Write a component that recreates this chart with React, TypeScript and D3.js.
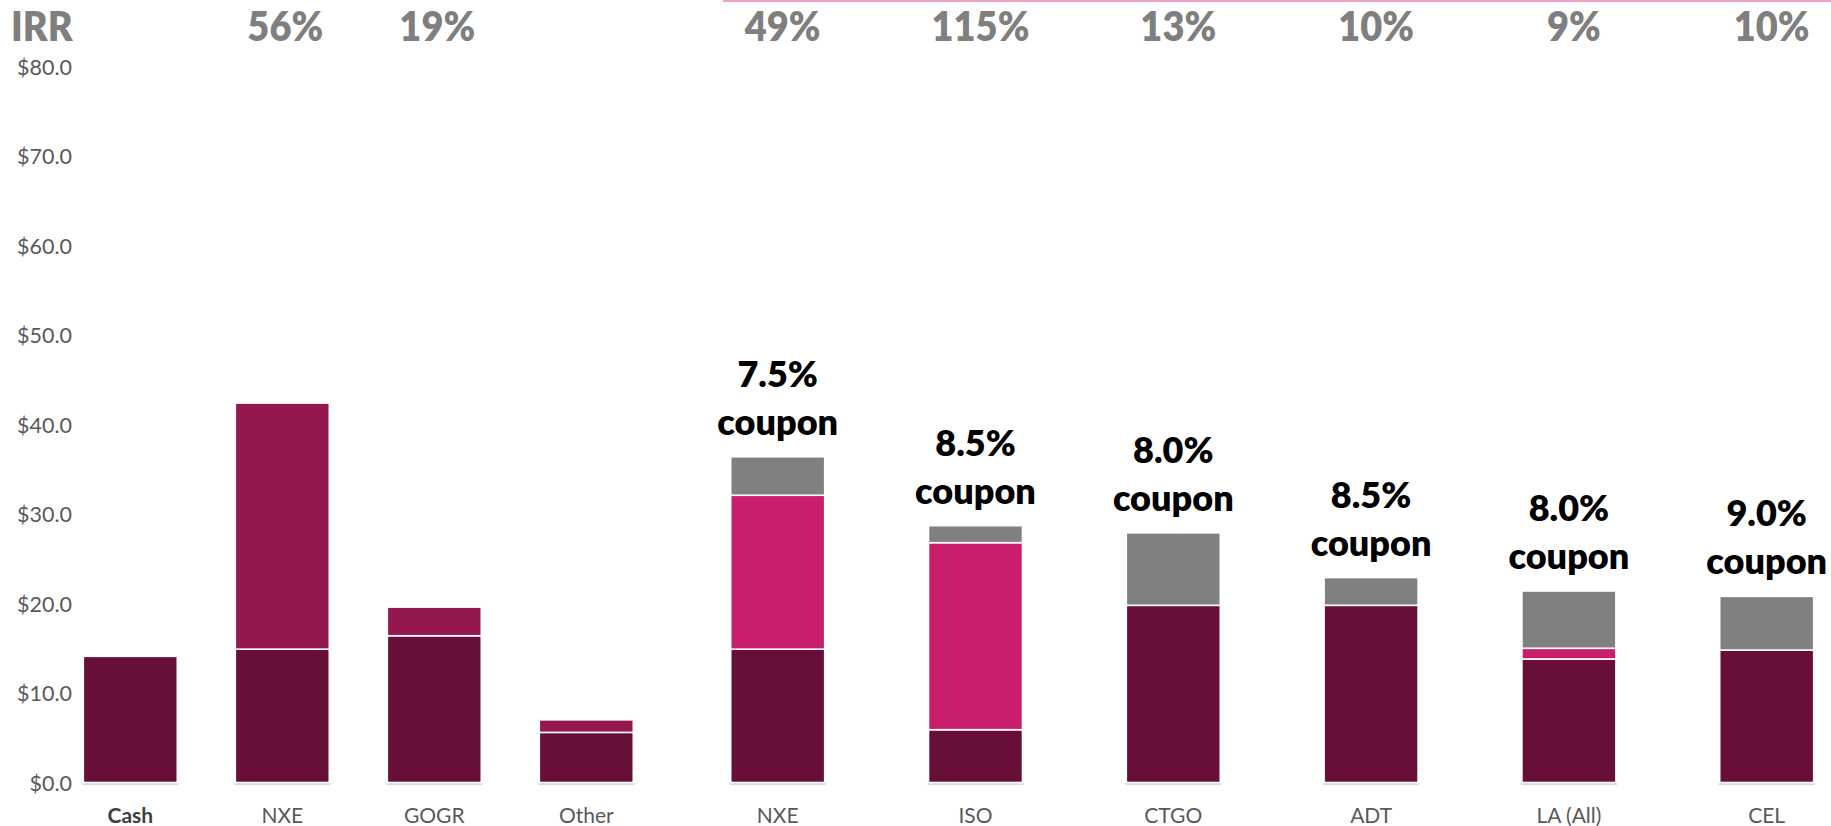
import React from "react";
import * as d3 from "d3";

// ---------- data ----------
const categories1 = ["Cash", "NXE", "GOGR", "Other"];
const base1 = [14.1, 14.9, 16.4, 5.6];
const upside1 = [0, 27.5, 3.2, 1.4];
const irr1 = ["", "56%", "19%", ""];

const categories2 = ["NXE", "ISO", "CTGO", "ADT", "LA (All)", "CEL"];
const base2 = [14.9, 5.9, 19.8, 19.8, 13.8, 14.8];
const pink2 = [17.2, 20.9, 0, 0, 1.2, 0];
const gray2 = [4.3, 1.9, 8.1, 3.1, 6.4, 6.0];
const irr2 = ["49%", "115%", "13%", "10%", "9%", "10%"];
const coupons = ["7.5%", "8.5%", "8.0%", "8.5%", "8.0%", "9.0%"];

const yTicks = [0, 10, 20, 30, 40, 50, 60, 70, 80];

// ---------- style ----------
const W = 1831;
const H = 826;
const C_DARK = "#670F38";
const C_WINE = "#95174F";
const C_PINK = "#C91E6C";
const C_GRAY = "#808080";
const FONT = "Lato, 'Open Sans', sans-serif";

export default function App() {
  const y = d3.scaleLinear().domain([0, 80]).range([782.5, 66.6]);

  const p1 = 1 - 94 / 152;
  const x1 = d3
    .scaleBand<string>()
    .domain(categories1)
    .range([54.3, 54.3 + 152 * 4])
    .paddingInner(p1)
    .paddingOuter(p1 / 2);

  const idx2 = categories2.map((_, i) => String(i));
  const p2 = 1 - 94 / 197.8;
  const x2 = d3
    .scaleBand<string>()
    .domain(idx2)
    .range([678.8, 678.8 + 197.8 * 6])
    .paddingInner(p2)
    .paddingOuter(p2 / 2);

  type Seg = { x: number; w: number; y0: number; y1: number; color: string; key: string };
  const segs: Seg[] = [];
  categories1.forEach((c, i) => {
    const x = x1(c)!;
    const w = x1.bandwidth();
    segs.push({ x, w, y0: 0, y1: base1[i], color: C_DARK, key: `a${i}` });
    if (upside1[i] > 0)
      segs.push({ x, w, y0: base1[i], y1: base1[i] + upside1[i], color: C_WINE, key: `b${i}` });
  });
  idx2.forEach((k, i) => {
    const x = x2(k)!;
    const w = x2.bandwidth();
    let acc = 0;
    segs.push({ x, w, y0: acc, y1: acc + base2[i], color: C_DARK, key: `c${i}` });
    acc += base2[i];
    if (pink2[i] > 0) {
      segs.push({ x, w, y0: acc, y1: acc + pink2[i], color: C_PINK, key: `d${i}` });
      acc += pink2[i];
    }
    if (gray2[i] > 0) {
      segs.push({ x, w, y0: acc, y1: acc + gray2[i], color: C_GRAY, key: `e${i}` });
      acc += gray2[i];
    }
  });

  const bases: { x: number; w: number; key: string }[] = [
    ...categories1.map((c) => ({ x: x1(c)!, w: x1.bandwidth(), key: "s1" + c })),
    ...idx2.map((k) => ({ x: x2(k)!, w: x2.bandwidth(), key: "s2" + k })),
  ];

  return (
    <svg
      width={W}
      height={H}
      style={{ position: "absolute", left: 0, top: 0, display: "block", background: "#fff" }}
    >
      <rect x={0} y={0} width={W} height={H} fill="#fff" />
      {/* top pink rule */}
      <line x1={723} x2={W} y1={1} y2={1} stroke="#EEA2CA" strokeWidth={2} />

      {/* y tick labels */}
      {yTicks.map((t) => (
        <text
          key={t}
          x={72}
          y={y(t)}
          textAnchor="end"
          dominantBaseline="central"
          fontFamily={FONT}
          fontSize={21.5}
          fill="#595959"
        >
          {d3.format("$.1f")(t)}
        </text>
      ))}

      {/* baseline shadows */}
      {bases.map((b) => (
        <rect key={b.key} x={b.x - 1} y={y(0)} width={b.w + 2} height={2.5} fill="#D9D9D9" />
      ))}

      {/* bars */}
      {segs.map((s) => (
        <rect
          key={s.key}
          x={s.x}
          y={y(s.y1)}
          width={s.w}
          height={y(s.y0) - y(s.y1)}
          fill={s.color}
          stroke="#fff"
          strokeWidth={1.6}
        />
      ))}

      {/* category labels */}
      {categories1.map((c, i) => (
        <text
          key={"cl1" + c}
          x={x1(c)! + x1.bandwidth() / 2}
          y={814}
          textAnchor="middle"
          dominantBaseline="central"
          fontFamily={FONT}
          fontSize={21}
          fontWeight={i === 0 ? 700 : 400}
          fill={i === 0 ? "#404040" : "#595959"}
        >
          {c}
        </text>
      ))}
      {categories2.map((c, i) => (
        <text
          key={"cl2" + i}
          x={x2(String(i))! + x2.bandwidth() / 2}
          y={814}
          textAnchor="middle"
          dominantBaseline="central"
          fontFamily={FONT}
          fontSize={21}
          fill="#595959"
        >
          {c}
        </text>
      ))}

      {/* IRR row */}
      <text
        x={11}
        y={41}
        fontFamily={FONT}
        fontSize={38}
        fontWeight={800}
        fill="#7F7F7F"
        transform="translate(0,41) scale(1,1.1) translate(0,-41)"
      >
        IRR
      </text>
      {categories1.map((c, i) =>
        irr1[i] ? (
          <text
            key={"irr1" + c}
            x={x1(c)! + x1.bandwidth() / 2 + 3}
            y={41}
            textAnchor="middle"
            fontFamily={FONT}
            fontSize={38}
            fontWeight={800}
            fill="#7F7F7F"
            transform="translate(0,41) scale(1,1.1) translate(0,-41)"
          >
            {irr1[i]}
          </text>
        ) : null
      )}
      {idx2.map((k, i) => (
        <text
          key={"irr2" + k}
          x={x2(k)! + x2.bandwidth() / 2 + 5}
          y={41}
          textAnchor="middle"
          fontFamily={FONT}
          fontSize={38}
          fontWeight={800}
          fill="#7F7F7F"
          transform="translate(0,41) scale(1,1.1) translate(0,-41)"
        >
          {irr2[i]}
        </text>
      ))}

      {/* coupon labels */}
      {idx2.map((k, i) => {
        const top = base2[i] + pink2[i] + gray2[i];
        const cx = x2(k)! + x2.bandwidth() / 2;
        return (
          <g key={"cp" + k}>
            <text
              x={cx}
              y={y(top) - 84}
              textAnchor="middle"
              dominantBaseline="central"
              fontFamily={FONT}
              fontSize={36}
              fontWeight={800}
              fill="#000"
            >
              {coupons[i]}
            </text>
            <text
              x={cx}
              y={y(top) - 36}
              textAnchor="middle"
              dominantBaseline="central"
              fontFamily={FONT}
              fontSize={36}
              fontWeight={800}
              fill="#000"
            >
              coupon
            </text>
          </g>
        );
      })}
    </svg>
  );
}
